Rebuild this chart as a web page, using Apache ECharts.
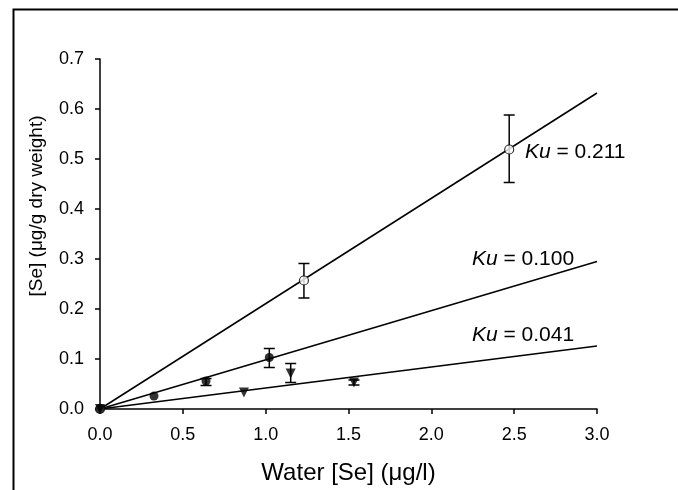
<!DOCTYPE html>
<html>
<head>
<meta charset="utf-8">
<script src="https://cdn.jsdelivr.net/npm/echarts@6/dist/echarts.min.js"></script>
<style>
html,body{margin:0;padding:0;background:#fff;}
#c{width:678px;height:490px;}
</style>
</head>
<body>
<div id="c"></div>
<script>
// ---- data ----
const openX = [0, 1.231, 2.470];
const openY = [0, 0.257, 0.519];
const openLow = [null, 0.222, 0.453];
const openHigh = [null, 0.291, 0.588];

const filledX = [0, 0.326, 0.640, 1.022];
const filledY = [0, 0.026, 0.056, 0.103];
const filledLow = [null, null, 0.047, 0.083];
const filledHigh = [null, null, 0.061, 0.121];

const triX = [0, 0.869, 1.151, 1.533];
const triY = [0, 0.033, 0.071, 0.053];
const triLow = [null, null, 0.053, 0.048];
const triHigh = [null, null, 0.091, 0.058];

const fitX = [0, 3];
const fit211 = [0, 0.632];
const fit100 = [0, 0.295];
const fit041 = [0, 0.126];

const labelTexts = ['0.211', '0.100', '0.041'];
const labelX = [2.565, 2.245, 2.245];
const labelY = [0.513, 0.300, 0.148];

const xTitle = 'Water [Se] (\u03bcg/l)';
const yTitle = '[Se] (\u03bcg/g dry weight)';

// ---- build ----
const FONT = '"Liberation Sans", Arial, sans-serif';
function pairs(xs, ys) { return xs.map((x, i) => [x, ys[i]]); }
function errData(xs, lo, hi) {
  const out = [];
  xs.forEach((x, i) => { if (lo[i] != null) out.push([x, lo[i], hi[i]]); });
  return out;
}
const allErr = errData(openX, openLow, openHigh)
  .concat(errData(filledX, filledLow, filledHigh))
  .concat(errData(triX, triLow, triHigh));

function renderErr(params, api) {
  const x = api.value(0), lo = api.value(1), hi = api.value(2);
  const a = api.coord([x, lo]), b = api.coord([x, hi]);
  const w = 5.5;
  const st = { stroke: '#000', lineWidth: 1.5 };
  return {
    type: 'group',
    children: [
      { type: 'line', shape: { x1: a[0], y1: a[1], x2: b[0], y2: b[1] }, style: st },
      { type: 'line', shape: { x1: a[0] - w, y1: a[1], x2: a[0] + w, y2: a[1] }, style: st },
      { type: 'line', shape: { x1: b[0] - w, y1: b[1], x2: b[0] + w, y2: b[1] }, style: st }
    ]
  };
}

function renderLabel(params, api) {
  const p = api.coord([api.value(0), api.value(1)]);
  return {
    type: 'text',
    x: p[0], y: p[1],
    style: {
      text: '{i|Ku}{n| = ' + labelTexts[params.dataIndex] + '}',
      align: 'left', verticalAlign: 'middle',
      fill: '#000',
      rich: {
        i: { fontFamily: FONT, fontSize: 21, fontStyle: 'italic', fill: '#000', color: '#000' },
        n: { fontFamily: FONT, fontSize: 21, fill: '#000', color: '#000' }
      }
    }
  };
}

const chart = echarts.init(document.getElementById('c'), null, { renderer: 'canvas' });
const lineStyle = { color: '#000', width: 1.5 };
chart.setOption({
  animation: false,
  backgroundColor: '#fff',
  graphic: [{
    type: 'rect', left: 11, top: 7,
    shape: { x: 0, y: 0, width: 800, height: 600 },
    style: { fill: 'none', stroke: '#000', lineWidth: 2 },
    silent: true
  }],
  grid: { left: 100, right: 81, top: 59, bottom: 81 },
  xAxis: {
    type: 'value', min: 0, max: 3, interval: 0.5,
    name: xTitle, nameLocation: 'middle', nameGap: 52,
    nameTextStyle: { fontFamily: FONT, fontSize: 24, color: '#000' },
    axisLine: { lineStyle: { color: '#000', width: 1.5 } },
    axisTick: { show: true, length: 5, lineStyle: { color: '#000', width: 1.5 } },
    axisLabel: { fontFamily: FONT, fontSize: 18, color: '#000', margin: 17,
      formatter: v => v.toFixed(1) },
    splitLine: { show: false }
  },
  yAxis: {
    type: 'value', min: 0, max: 0.7, interval: 0.1,
    name: yTitle, nameLocation: 'middle', nameGap: 54,
    nameTextStyle: { fontFamily: FONT, fontSize: 19, color: '#000', padding: [0, 0, 0, 56] },
    axisLine: { show: true, lineStyle: { color: '#000', width: 1.5 } },
    axisTick: { show: true, length: 5, lineStyle: { color: '#000', width: 1.5 } },
    axisLabel: { fontFamily: FONT, fontSize: 18, color: '#000', margin: 16,
      formatter: v => v.toFixed(1) },
    splitLine: { show: false }
  },
  series: [
    { type: 'line', data: pairs(fitX, fit211), symbol: 'none', lineStyle, z: 2 },
    { type: 'line', data: pairs(fitX, fit100), symbol: 'none', lineStyle, z: 2 },
    { type: 'line', data: pairs(fitX, fit041), symbol: 'none', lineStyle, z: 2 },
    { type: 'custom', renderItem: renderErr, data: allErr, z: 3, encode: { x: 0, y: [1, 2] } },
    { type: 'scatter', data: pairs(openX, openY), symbol: 'circle', symbolSize: 9,
      itemStyle: { color: '#fff', borderColor: '#000', borderWidth: 1.2 }, z: 4 },
    { type: 'scatter', data: pairs(filledX, filledY), symbol: 'circle', symbolSize: 9,
      itemStyle: { color: '#000' }, z: 5 },
    { type: 'scatter', data: pairs(triX, triY), symbol: 'triangle', symbolRotate: 180, symbolSize: 10,
      itemStyle: { color: '#000' }, z: 6 },
    { type: 'custom', renderItem: renderLabel, data: pairs(labelX, labelY), z: 7, silent: true,
      encode: { x: 0, y: 1 } }
  ]
});
</script>
</body>
</html>
